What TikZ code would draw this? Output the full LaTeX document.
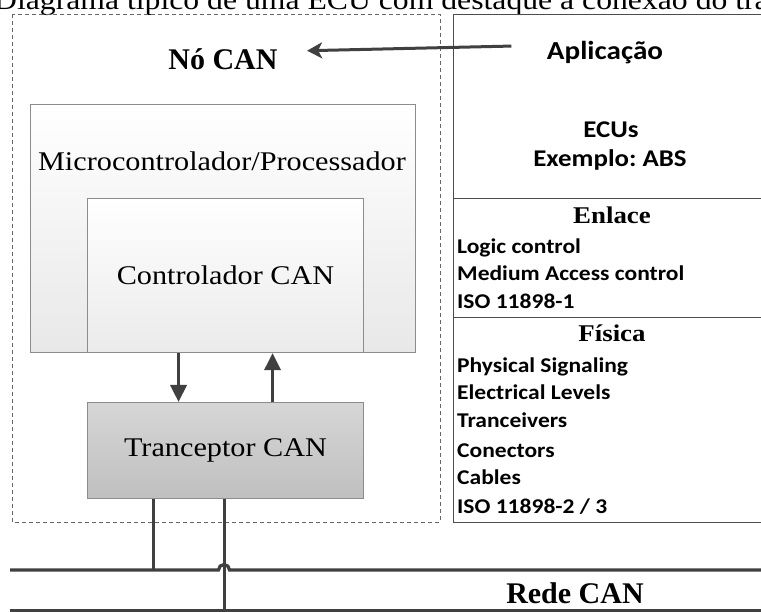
\documentclass[tikz,border=0pt]{standalone}
\usepackage{fontspec}
\setmainfont{Liberation Serif}[FakeStretch=1.12]
\newfontfamily\serifreto{Liberation Serif}
\newfontfamily\calibri{Carlito}[FakeStretch=1.12]
\usetikzlibrary{arrows.meta}
\frenchspacing

\begin{document}
\begin{tikzpicture}[x=1pt,y=-1pt,
  caixa/.style={draw=black!45,line width=1.1pt,inner sep=0pt,anchor=north west,font=\fontsize{27}{32}\selectfont},
  titulo/.style={font=\serifreto\bfseries\fontsize{30}{34}\selectfont,anchor=base},
  camada/.style={font=\bfseries\fontsize{24}{28}\selectfont,anchor=base},
  item/.style={font=\calibri\bfseries\fontsize{21}{24}\selectfont,anchor=base west,inner sep=0pt},
  grande/.style={font=\calibri\bfseries\fontsize{24}{28}\selectfont,anchor=base},
  linha/.style={draw=black!70,line width=0.9pt},
  barra/.style={draw=black!75,line width=3.2pt},
  seta/.style={draw=black!75,line width=3.4pt,-{Triangle[length=17pt,width=16pt]}}]
  \useasboundingbox (0,0) rectangle (761,612);
  \node[anchor=base west,font=\fontsize{28.3}{32}\selectfont,inner sep=0pt] (legenda) at (-6,9.5) {Diagrama típico de uma ECU com destaque à conexão do tra};
  % no CAN
  \draw[black!60,line width=0.8pt,dash pattern=on 4pt off 3pt] (12,14) rectangle (440,522);
  \node[titulo] (no) at (223,70) {Nó CAN};
  \node[caixa,top color=white,bottom color=black!9,minimum width=385pt,minimum height=248pt] (micro) at (30,104) {};
  \node[anchor=base,font=\fontsize{27}{32}\selectfont] (microtxt) at (222,171) {Microcontrolador/Processador};
  \node[caixa,top color=white,bottom color=black!8,minimum width=276pt,minimum height=154pt] (ctrl) at (87,198) {Controlador CAN};
  \node[caixa,top color=black!16,bottom color=black!25,minimum width=276pt,minimum height=96pt] (trx) at (87,402) {Tranceptor CAN};
  \draw[seta] ([xshift=-47pt]ctrl.south) -- ([xshift=-47pt]trx.north);
  \draw[seta] ([xshift=47pt]trx.north) -- ([xshift=47pt]ctrl.south);
  % camadas
  \draw[linha] (765,14) -- (453,14) -- (453,522) -- (765,522);
  \draw[linha] (453,198) -- (765,198);
  \draw[linha] (453,317) -- (765,317);
  \node[grande,font=\calibri\bfseries\fontsize{26}{30}\selectfont] (aplic) at (605,60) {Aplicação};
  \node[grande] (ecus) at (611,138) {ECUs};
  \node[grande] (exemplo) at (610,167) {Exemplo: ABS};
  \node[camada] (enlace) at (612,224) {Enlace};
  \node[item] (e1) at (457,254) {Logic control};
  \node[item] (e2) at (457,281) {Medium Access control};
  \node[item] (e3) at (457,309) {ISO 11898-1};
  \node[camada] (fisica) at (612,342) {Física};
  \node[item] (f1) at (457,373) {Physical Signaling};
  \node[item] (f2) at (457,400) {Electrical Levels};
  \node[item] (f3) at (457,428) {Tranceivers};
  \node[item] (f4) at (457,457) {Conectors};
  \node[item] (f5) at (457,485) {Cables};
  \node[item] (f6) at (457,513) {ISO 11898-2 / 3};
  \draw[black!75,line width=3pt,-{Stealth[length=15pt,width=16pt,inset=4pt]}] ([xshift=-32pt,yshift=7pt]aplic.west) -- ([xshift=26pt,yshift=9pt]no.east);
  % rede
  \node[titulo] (rede) at (575,603) {Rede CAN};
  \coordinate (barraA) at (10,570);
  \coordinate (barraB) at (765,570);
  \coordinate (barraC) at (10,611);
  \coordinate (barraD) at (765,611);
  \draw[barra] (barraA) -- (218.5,570) arc[start angle=180,end angle=360,radius=5.5] -- (barraB);
  \draw[barra] (barraC) -- (barraD);
  \draw[barra,line width=3pt] ([xshift=-72pt]trx.south) -- ([xshift=-72pt]trx.south |- barraA);
  \draw[barra,line width=3pt] ([xshift=-1pt]trx.south) -- ([xshift=-1pt]trx.south |- barraC);
\end{tikzpicture}
\end{document}
